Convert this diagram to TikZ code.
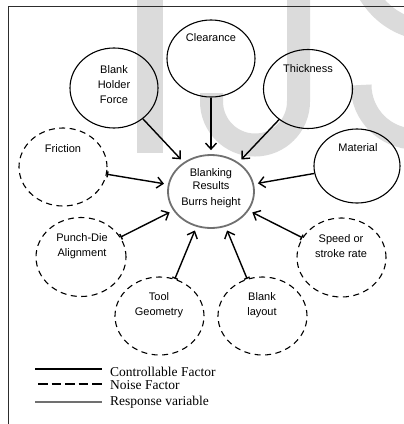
\documentclass[tikz,border=0pt]{standalone}
\usepackage{fontspec}
\setmainfont{Liberation Serif}
\newfontfamily\arialf{Liberation Sans}
\usetikzlibrary{arrows.meta,shapes.geometric}
\definecolor{wm}{RGB}{219,219,219}
\definecolor{resp}{RGB}{112,112,112}
\definecolor{frame}{RGB}{45,45,45}
\begin{document}
\begin{tikzpicture}[x=1pt,y=-1pt,
  ctrlell/.style={draw, ellipse, line width=1.1pt, inner sep=0pt},
  noiseell/.style={ctrlell, dash pattern=on 6pt off 4.5pt},
  respell/.style={draw=resp, ellipse, line width=1.8pt, inner sep=0pt},
  lbl/.style={font=\arialf\fontsize{11}{15}\selectfont, align=center, inner sep=0pt},
  leg/.style={font=\fontsize{13.5}{14}\selectfont, anchor=base west, inner sep=0pt},
  ctrl/.style={line width=1.4pt, -{Straight Barb[length=6pt,width=11pt]}, shorten >=4pt},
  noise/.style={line width=1.4pt, {Bar[width=6pt]}-{Straight Barb[length=6pt,width=11pt]}, shorten >=4pt}
]
\useasboundingbox (0,0) rectangle (404,424);
% watermark
\fill[wm] (137,-5) rectangle (163,153);
\draw[wm, line width=23pt] (298.5,-5) -- (298.5,101.5) arc[start angle=0, end angle=-180, radius=43.5pt] -- (211.5,93);
\draw[wm, line width=20pt] (368,-6) .. controls (378,10) and (392,22) .. (412,28);
\draw[wm, line width=21pt] (361,85) arc[start angle=180, end angle=270, radius=54pt];
% frame
\draw[frame, line width=1pt] (8,424) -- (8,6) -- (404,6);
% controllable factors
\node[ctrlell, minimum width=88pt, minimum height=80pt] (bhf) at (114,88) {};
\node[lbl] (bhft) at (114,84.5) {Blank\\Holder\\Force};
\node[ctrlell, minimum width=88pt, minimum height=77pt] (clear) at (211,58.5) {};
\node[lbl] (cleart) at (211,38) {Clearance};
\node[ctrlell, minimum width=89pt, minimum height=79pt] (thick) at (308,89) {};
\node[lbl] (thickt) at (308,69) {Thickness};
\node[ctrlell, minimum width=86pt, minimum height=74pt] (mat) at (357,166) {};
\node[lbl] (matt) at (358,148) {Material};
% response
\node[respell, minimum width=86pt, minimum height=73pt] (blank) at (211,191.5) {};
\node[lbl, font=\arialf\fontsize{11}{13.5}\selectfont] (blankt) at (211,188) {Blanking\\Results\\[2pt]Burrs height};
% noise factors
\node[noiseell, minimum width=88pt, minimum height=78pt] (fric) at (63,167) {};
\node[lbl] (frict) at (63,149) {Friction};
\node[noiseell, minimum width=90pt, minimum height=79pt] (punch) at (81,257) {};
\node[lbl] (puncht) at (82,246) {Punch-Die\\Alignment};
\node[noiseell, minimum width=89pt, minimum height=79pt] (speed) at (341.5,257.5) {};
\node[lbl] (speedt) at (341,246) {Speed or\\stroke rate};
\node[noiseell, minimum width=89pt, minimum height=78pt] (tool) at (159.5,316) {};
\node[lbl] (toolt) at (159,305) {Tool\\Geometry};
\node[noiseell, minimum width=89pt, minimum height=78pt] (layout) at (262.5,316) {};
\node[lbl] (layoutt) at (262,305) {Blank\\layout};
% connectors
\draw[ctrl] (bhf) -- (blank);
\draw[ctrl] (clear) -- (blank);
\draw[ctrl] (thick) -- (blank);
\draw[ctrl] (mat) -- (blank);
\draw[noise] (fric) -- (blank);
\draw[noise] (punch) -- (blank);
\draw[noise] (speed) -- (blank);
\draw[noise] (tool) -- (blank);
\draw[noise] (layout) -- (blank);
% legend
\coordinate (la1) at (35,369); \coordinate (lb1) at (102,369);
\coordinate (la2) at (38,384); \coordinate (lb2) at (102,384);
\coordinate (la3) at (35,402); \coordinate (lb3) at (102,402);
\draw[line width=2pt] (la1) -- (lb1);
\draw[line width=2pt, dash pattern=on 9.5pt off 4pt] (la2) -- (lb2);
\draw[resp, line width=1.6pt] (la3) -- (lb3);
\node[leg] (leg1) at (110,376) {Controllable Factor};
\node[leg] (leg2) at (110,389.5) {Noise Factor};
\node[leg] (leg3) at (110,405.5) {Response variable};
\end{tikzpicture}
\end{document}
